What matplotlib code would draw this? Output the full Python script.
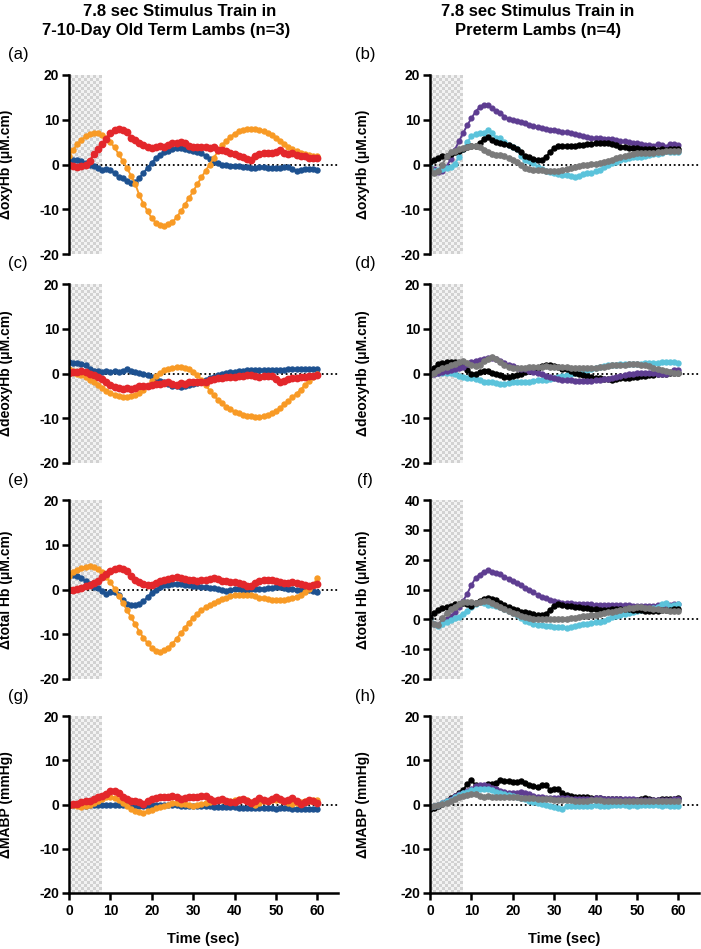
import numpy as np
import matplotlib.pyplot as plt
from matplotlib.colors import ListedColormap

plt.rcParams['font.family'] = ['Liberation Sans', 'DejaVu Sans']
plt.rcParams['axes.unicode_minus'] = False

# 时间轴（秒），每秒一个采样点
time_sec = np.arange(0, 61)
stim_end = 7.8

# ---------- 足月羔羊 (n=3) ----------
oxy_term_blue = [1.0, 0.9, 0.9, 0.7, 0.3, 0.0, -0.3, -0.8, -1.3, -1.0, -1.2, -2.0, -2.7, -3.1, -3.6, -4.1,
                 -4.0, -3.0, -1.9, -0.7, 0.4, 1.4, 2.2, 2.7, 3.1, 3.4, 3.6, 3.6, 3.4, 3.3, 3.1, 2.9, 2.6,
                 1.9, 1.2, 0.6, 0.3, 0.0, -0.2, -0.3, -0.4, -0.4, -0.5, -0.6, -0.8, -0.7, -0.6, -0.6, -0.7,
                 -0.8, -0.8, -0.7, -0.6, -0.6, -1.0, -1.5, -1.3, -1.0, -1.0, -1.1, -1.3]
oxy_term_orange = [2.0, 3.3, 4.5, 5.5, 6.3, 6.8, 7.0, 7.0, 6.6, 5.9, 5.0, 3.8, 2.3, 0.8, -0.8, -2.5, -4.3,
                   -6.9, -8.8, -10.5, -12.0, -13.0, -13.6, -13.7, -13.4, -12.9, -11.8, -10.5, -9.0, -7.5,
                   -6.0, -4.4, -2.9, -1.4, 0.0, 1.5, 3.0, 4.3, 5.3, 6.2, 6.9, 7.4, 7.8, 8.0, 8.0, 8.0, 7.8,
                   7.5, 7.0, 6.5, 5.9, 5.2, 4.6, 4.0, 3.4, 3.0, 2.6, 2.3, 2.1, 1.9, 1.8]
oxy_term_red = [0.0, -0.3, -0.5, -0.4, 0.0, 0.8, 2.3, 3.5, 4.5, 5.8, 7.0, 7.7, 7.9, 7.7, 7.2, 6.0, 5.5, 4.8,
                4.3, 3.8, 3.7, 4.0, 4.1, 3.9, 4.3, 4.9, 4.8, 5.0, 4.7, 4.2, 3.9, 3.9, 4.0, 3.8, 3.6, 3.8, 3.3,
                3.2, 3.0, 2.6, 2.3, 2.0, 1.6, 1.2, 1.0, 2.0, 2.3, 2.5, 2.5, 2.6, 2.9, 3.2, 2.5, 2.3, 2.5, 2.2,
                2.0, 1.8, 1.5, 1.4, 1.4]

deoxy_term_blue = [2.5, 2.4, 2.3, 2.1, 1.8, 1.0, 0.6, 0.5, 0.4, 0.5, 0.4, 0.5, 0.3, 0.6, 0.9, 0.5, 0.4, 0.2,
                   -0.1, -0.4, -0.8, -1.2, -1.6, -2.0, -2.4, -2.7, -2.9, -3.0, -2.8, -2.6, -2.4, -2.1, -1.8,
                   -1.4, -1.0, -0.7, -0.4, -0.2, 0.1, 0.3, 0.4, 0.5, 0.6, 0.7, 0.7, 0.8, 0.8, 0.7, 0.7, 0.8,
                   0.8, 0.7, 0.8, 0.9, 0.9, 1.0, 1.1, 1.0, 0.9, 1.0, 0.9]
deoxy_term_orange = [1.0, 0.5, 0.0, -0.4, -0.8, -1.4, -2.0, -2.6, -3.2, -3.8, -4.4, -4.8, -5.1, -5.2, -5.3,
                     -5.1, -4.8, -4.3, -3.6, -2.8, -1.7, -0.6, 0.2, 0.7, 1.1, 1.3, 1.4, 1.4, 1.3, 1.0, 0.4,
                     -0.4, -1.4, -2.6, -3.8, -4.9, -5.9, -6.7, -7.4, -8.0, -8.5, -8.9, -9.2, -9.4, -9.6, -9.7,
                     -9.7, -9.6, -9.3, -8.9, -8.4, -7.7, -6.9, -6.2, -5.3, -4.5, -3.6, -2.6, -1.7, -0.8, 0.0]
deoxy_term_red = [0.2, 0.3, 0.4, 0.5, 0.3, 0.0, -0.4, -0.8, -1.3, -2.0, -2.5, -3.0, -3.3, -3.4, -3.3, -3.5,
                  -3.2, -2.9, -2.8, -2.7, -2.5, -2.3, -2.3, -2.2, -2.0, -2.3, -2.5, -2.2, -2.3, -2.0, -2.0,
                  -1.9, -1.8, -1.8, -1.5, -1.3, -1.1, -1.0, -0.8, -0.8, -0.7, -0.6, -0.5, -0.3, -0.4, -0.6,
                  -0.8, -0.6, -0.5, -0.6, -1.2, -1.8, -1.6, -1.2, -1.0, -0.9, -0.8, -0.7, -0.6, -0.5, -0.4]

total_term_blue = [3.2, 3.2, 3.1, 2.6, 1.8, 1.2, 0.6, 0.3, -0.3, -0.9, -0.6, -0.5, -1.2, -2.4, -3.3, -3.5,
                   -3.5, -3.3, -2.6, -1.7, -0.7, 0.0, 0.5, 0.9, 1.1, 1.3, 1.3, 1.2, 1.0, 0.9, 0.8, 0.7, 0.6,
                   0.5, 0.4, 0.4, 0.2, 0.0, -0.3, -0.1, 0.2, 0.1, 0.0, 0.0, 0.1, 0.2, 0.2, 0.2, 0.3, 0.4, 0.6,
                   0.6, 0.4, 0.2, 0.1, 0.0, 0.0, -0.1, -0.1, -0.3, -0.5]
total_term_orange = [3.0, 3.8, 4.4, 4.9, 5.1, 5.2, 5.0, 4.5, 3.8, 2.7, 1.6, 0.2, -1.4, -3.0, -4.6, -6.2,
                     -7.8, -9.4, -10.8, -12.0, -13.0, -13.8, -14.0, -13.6, -13.0, -12.1, -11.0, -9.8, -8.6,
                     -7.4, -6.3, -5.4, -4.6, -4.0, -3.5, -3.0, -2.5, -2.1, -1.8, -1.5, -1.3, -1.2, -1.2, -1.2,
                     -1.3, -1.5, -1.8, -2.0, -2.2, -2.4, -2.4, -2.4, -2.3, -2.1, -1.9, -1.6, -1.2, -0.5, 0.2,
                     1.0, 2.6]
total_term_red = [-0.1, 0.0, 0.2, 0.4, 0.7, 1.1, 1.5, 2.0, 2.7, 3.4, 4.1, 4.6, 4.7, 4.6, 4.2, 3.0, 2.2, 1.6,
                  1.2, 1.0, 1.1, 1.5, 1.9, 2.2, 2.4, 2.6, 2.7, 2.6, 2.3, 2.1, 2.1, 2.0, 2.1, 2.2, 2.3, 2.5, 2.3,
                  2.0, 1.8, 1.7, 1.6, 1.5, 1.3, 0.8, 0.8, 1.4, 1.9, 2.1, 2.2, 2.2, 2.0, 1.7, 1.5, 1.5, 1.6,
                  1.5, 1.3, 1.0, 0.8, 1.0, 1.2]

mabp_term_blue = [0.0, 0.0, -0.1, -0.3, -0.3, -0.2, -0.2, -0.1, 0.0, 0.0, 0.0, 0.0, 0.0, -0.1, -0.2, -0.3,
                  -0.4, -0.4, -0.4, -0.3, -0.2, -0.2, -0.2, -0.2, -0.2, -0.2, -0.2, -0.3, -0.3, -0.3, -0.3,
                  -0.3, -0.4, -0.4, -0.4, -0.5, -0.5, -0.5, -0.6, -0.6, -0.6, -0.7, -0.8, -0.8, -0.7, -0.7,
                  -0.8, -0.8, -0.8, -0.9, -1.0, -0.9, -0.8, -0.9, -1.0, -1.0, -1.1, -1.0, -1.0, -1.1, -1.0]
mabp_term_orange = [0.0, -0.1, -0.3, -0.5, -0.4, -0.2, 0.3, 0.8, 1.2, 1.6, 1.8, 1.5, 1.0, 0.4, -0.3, -1.0,
                    -1.5, -1.6, -2.0, -1.5, -1.2, -0.9, -0.6, -0.3, 0.0, 0.3, 0.4, 0.2, 0.2, 0.0, -0.3, -0.1,
                    0.2, 0.3, 0.6, 0.8, 1.1, 1.0, 0.9, 0.9, 1.0, 1.2, 1.3, 1.1, 0.6, 0.0, 0.3, 0.7, 0.9, 1.0,
                    1.0, 1.1, 0.8, 0.4, 0.2, 0.4, 0.6, 0.7, 0.8, 1.0, 1.1]
mabp_term_red = [0.0, 0.1, 0.2, 0.5, 0.7, 0.9, 1.3, 1.7, 1.9, 2.3, 3.1, 3.0, 2.6, 1.8, 1.2, 0.9, 0.8, 0.5,
                 0.2, 0.8, 1.3, 1.4, 1.6, 1.8, 1.8, 2.0, 1.6, 1.2, 1.4, 1.6, 1.6, 1.7, 1.9, 2.0, 1.3, 0.9, 1.1,
                 1.2, 0.8, 0.5, 0.6, 1.0, 1.2, 0.8, 0.3, 0.9, 1.4, 1.0, 0.7, 1.2, 1.7, 1.2, 0.7, 1.0, 1.4, 0.9,
                 0.2, 0.6, 1.1, 0.8, 0.3]

# ---------- 早产羔羊 (n=4) ----------
oxy_pre_purple = [-0.5, -1.0, -1.6, -1.5, -0.5, 1.2, 3.3, 5.2, 7.0, 8.8, 10.3, 11.8, 12.8, 13.4, 13.2, 12.6,
                  12.0, 11.6, 10.7, 10.1, 10.0, 9.8, 9.5, 9.2, 8.9, 8.6, 8.3, 8.2, 8.0, 7.8, 7.6, 7.4, 7.3, 7.2,
                  7.0, 6.9, 6.7, 6.4, 6.2, 6.0, 5.9, 5.9, 5.8, 5.7, 5.6, 5.5, 5.3, 5.2, 5.0, 4.8, 4.7, 4.5,
                  4.3, 4.3, 4.2, 4.6, 4.4, 4.0, 4.6, 4.5, 4.3]
oxy_pre_cyan = [-0.5, -1.5, -1.3, -0.9, -0.8, -0.5, 0.2, 1.6, 3.5, 5.0, 6.3, 6.8, 7.0, 7.1, 7.7, 7.0, 6.0,
                5.9, 5.0, 4.4, 4.0, 3.5, 2.0, 1.0, 0.8, 0.3, -0.5, -1.0, -1.5, -1.7, -1.9, -2.1, -2.3, -2.4,
                -2.5, -2.9, -2.6, -2.2, -2.0, -1.8, -1.5, -1.2, -0.6, -0.1, 0.3, 0.6, 1.0, 1.3, 1.5, 1.6, 1.7,
                1.7, 1.9, 2.1, 2.3, 2.4, 2.6, 3.1, 2.9, 2.7, 2.7]
oxy_pre_black = [0.5, 1.0, 1.4, 1.8, 2.0, 2.4, 2.7, 3.0, 3.4, 3.8, 4.1, 4.2, 4.9, 5.6, 6.2, 5.5, 5.0, 4.8,
                 4.5, 4.3, 3.9, 3.4, 2.7, 2.0, 1.6, 1.3, 1.0, 1.1, 1.6, 2.8, 3.7, 4.1, 4.1, 4.1, 4.2, 4.2, 4.3,
                 4.4, 4.5, 4.5, 4.7, 4.8, 4.8, 4.7, 4.5, 4.3, 4.0, 3.8, 3.7, 3.6, 3.6, 3.5, 3.4, 3.4, 3.5,
                 3.3, 3.5, 3.3, 3.4, 3.4, 3.4]
oxy_pre_gray = [-0.8, -1.8, -1.5, 0.0, 1.8, 2.7, 3.1, 3.4, 3.6, 3.9, 4.1, 4.1, 3.8, 3.2, 2.7, 2.3, 2.2, 2.1,
                1.8, 1.5, 1.0, 0.5, -0.2, -0.8, -1.1, -1.2, -1.3, -1.3, -1.4, -1.4, -1.4, -1.4, -1.3, -1.1,
                -0.8, -0.6, -0.3, -0.2, 0.0, 0.1, 0.2, 0.3, 0.5, 0.8, 1.1, 1.4, 1.7, 1.9, 2.2, 2.4, 2.5, 2.5,
                2.6, 2.6, 2.6, 2.7, 2.9, 3.0, 3.1, 3.1, 3.1]

deoxy_pre_purple = [-0.2, 0.0, 0.2, 0.4, 0.6, 0.8, 1.0, 1.2, 1.5, 2.1, 2.6, 2.9, 3.1, 3.3, 3.5, 3.4, 3.2,
                    2.8, 2.4, 2.0, 1.6, 1.3, 1.1, 0.9, 0.6, 0.4, 0.1, -0.2, -0.5, -0.8, -1.0, -1.2, -1.4,
                    -1.5, -1.5, -1.6, -1.6, -1.7, -1.6, -1.6, -1.5, -1.4, -1.3, -1.2, -1.0, -0.8, -0.6, -0.4,
                    -0.2, 0.0, 0.1, 0.2, 0.2, 0.2, 0.1, 0.0, -0.1, 0.0, 0.3, 0.7, 0.7]
deoxy_pre_cyan = [0.0, 0.1, 0.2, 0.2, 0.2, 0.2, -0.2, -0.5, -0.8, -1.0, -1.1, -1.3, -1.5, -1.8, -1.9, -2.0,
                  -2.1, -2.4, -2.3, -2.1, -2.0, -2.0, -2.0, -1.9, -1.8, -1.6, -1.5, -1.4, -1.4, -1.3, -1.1,
                  -0.8, -0.6, -0.4, -0.2, 0.1, 0.3, 0.5, 0.8, 1.0, 1.2, 1.4, 1.6, 1.8, 1.9, 2.0, 2.1, 2.1, 2.2,
                  2.2, 2.2, 2.2, 2.3, 2.3, 2.4, 2.4, 2.5, 2.5, 2.6, 2.5, 2.4]
deoxy_pre_black = [0.3, 1.2, 2.1, 2.3, 2.5, 2.6, 2.5, 2.3, 1.6, 0.8, 0.0, -0.2, 0.3, 0.6, 0.5, 0.2, 0.0,
                   -0.4, -0.7, -0.7, -0.6, -0.4, -0.1, 0.3, 0.6, 0.9, 1.3, 1.6, 1.9, 1.8, 1.6, 1.4, 1.1, 0.9,
                   0.6, 0.2, -0.2, -0.4, -0.6, -0.7, -0.9, -1.0, -1.2, -1.3, -1.4, -1.3, -1.1, -1.0, -0.9,
                   -0.8, -0.7, -0.6, -0.5, -0.4, -0.3, -0.2, -0.1, 0.0, 0.1, 0.2, 0.2]
deoxy_pre_gray = [-0.3, 0.2, 0.8, 1.2, 1.5, 1.9, 2.2, 2.5, 2.8, 2.4, 1.9, 1.6, 2.0, 2.7, 3.2, 3.6, 3.2, 2.6,
                  2.0, 1.5, 1.3, 1.3, 1.3, 1.3, 1.4, 1.4, 1.5, 1.5, 1.6, 1.5, 1.5, 1.5, 1.4, 1.4, 1.3, 1.3, 1.3,
                  1.3, 1.3, 1.3, 1.3, 1.4, 1.5, 1.6, 1.8, 1.9, 2.0, 2.0, 2.1, 2.1, 2.1, 2.0, 1.8, 1.6, 1.3,
                  1.1, 0.8, 0.6, 0.4, 0.2, 0.2]

total_pre_purple = [-1.0, -1.5, -1.8, -1.0, 0.1, 1.0, 2.3, 4.0, 6.2, 8.6, 11.5, 13.8, 15.0, 16.0, 16.4, 16.0,
                    15.5, 15.1, 14.3, 13.6, 12.9, 12.1, 11.4, 10.6, 9.8, 9.0, 8.3, 7.6, 7.0, 6.5, 6.1, 5.8,
                    5.6, 5.5, 5.4, 5.3, 5.2, 5.1, 5.1, 5.0, 4.9, 4.8, 4.8, 4.8, 4.8, 4.8, 4.8, 4.7, 4.7, 4.6,
                    4.6, 4.6, 4.6, 4.6, 4.6, 4.7, 4.8, 4.8, 4.9, 5.1, 5.1]
total_pre_cyan = [0.0, -1.5, -2.1, -1.5, -0.8, -0.3, 0.3, 0.9, 1.8, 2.9, 4.0, 5.0, 5.8, 5.5, 4.8, 4.7, 4.6,
                  4.1, 3.5, 2.8, 2.1, 1.5, 0.6, -0.4, -1.0, -1.4, -1.8, -2.0, -2.2, -2.4, -2.5, -2.6, -2.7,
                  -2.8, -2.5, -2.1, -1.8, -1.6, -1.4, -1.2, -1.0, -0.8, -0.4, 0.2, 0.8, 1.1, 1.5, 1.9, 2.2,
                  2.5, 2.9, 3.2, 3.4, 3.6, 3.9, 4.3, 5.0, 5.6, 4.6, 4.8, 5.1]
total_pre_black = [0.5, 2.0, 3.2, 3.8, 4.3, 4.6, 5.0, 5.3, 5.6, 5.0, 4.6, 5.5, 6.0, 6.8, 7.1, 6.8, 6.4, 5.6,
                   4.7, 4.0, 3.4, 3.0, 2.6, 2.3, 2.0, 1.7, 1.5, 1.5, 1.8, 3.2, 4.6, 5.1, 4.9, 4.6, 4.5, 4.3,
                   4.1, 3.9, 3.7, 3.5, 3.4, 3.2, 3.1, 3.2, 3.3, 3.4, 3.5, 3.4, 3.3, 3.2, 3.1, 3.0, 2.9, 2.8,
                   2.8, 2.9, 3.0, 3.1, 3.2, 3.4, 3.5]
total_pre_gray = [-1.0, -1.5, -2.0, 0.3, 2.0, 3.3, 4.3, 5.2, 5.9, 5.9, 5.7, 5.6, 5.7, 6.0, 6.1, 5.6, 4.9, 4.2,
                  3.4, 2.8, 2.2, 1.7, 1.2, 0.7, 0.3, 0.2, 0.1, 0.0, 0.0, 0.0, 0.0, 0.1, 0.1, 0.2, 0.4, 0.6,
                  0.8, 1.0, 1.2, 1.3, 1.5, 1.7, 2.0, 2.3, 2.6, 2.9, 3.2, 3.5, 3.8, 3.9, 4.0, 4.0, 3.9, 3.8,
                  3.6, 3.4, 3.2, 3.0, 2.9, 2.8, 2.8]

mabp_pre_purple = [-0.5, -0.3, 0.0, 0.3, 0.7, 1.3, 1.9, 2.3, 2.6, 3.0, 3.6, 4.1, 4.4, 4.4, 4.2, 3.8, 3.4,
                   3.1, 2.9, 2.7, 2.5, 2.6, 2.8, 2.6, 2.3, 2.0, 1.8, 1.7, 1.5, 1.4, 1.4, 1.4, 1.4, 1.4, 1.3,
                   1.3, 1.2, 1.2, 1.2, 1.3, 1.4, 1.4, 1.3, 1.2, 1.2, 1.2, 1.2, 1.2, 1.2, 1.2, 1.1, 1.1, 1.0,
                   1.0, 1.0, 1.0, 1.0, 1.0, 1.1, 1.2, 1.2]
mabp_pre_cyan = [-0.5, -0.4, -0.1, 0.3, 0.7, 1.1, 1.6, 2.1, 2.5, 2.9, 3.2, 3.4, 3.5, 3.5, 3.4, 3.2, 2.8, 2.5,
                 2.3, 2.2, 2.0, 1.8, 1.5, 1.2, 0.9, 0.6, 0.4, 0.2, 0.0, -0.3, -0.5, -0.7, -1.0, -0.3, -0.3,
                 -0.4, -0.4, -0.4, -0.3, -0.3, -0.2, -0.3, -0.3, -0.4, -0.2, -0.1, -0.1, -0.2, -0.3, -0.2,
                 -0.3, -0.2, -0.1, -0.1, -0.1, -0.2, -0.3, -0.2, -0.3, -0.3, -0.3]
mabp_pre_black = [-1.0, -0.8, -0.4, 0.2, 0.9, 1.4, 2.0, 2.6, 3.3, 4.6, 5.5, 4.4, 4.1, 4.0, 4.6, 4.7, 4.9,
                  5.5, 5.3, 5.2, 5.0, 5.1, 5.2, 4.8, 4.4, 4.2, 4.0, 4.3, 4.4, 3.3, 3.5, 3.6, 2.6, 2.2, 1.9,
                  1.8, 1.7, 1.6, 1.6, 1.5, 1.5, 1.4, 1.3, 1.3, 1.2, 1.2, 1.2, 1.1, 1.1, 1.0, 1.0, 1.2, 1.4,
                  1.2, 1.0, 1.1, 1.2, 1.3, 1.2, 1.3, 1.4]
mabp_pre_gray = [-0.5, -0.4, -0.2, 0.1, 0.4, 0.8, 1.2, 1.6, 1.9, 2.2, 2.4, 2.4, 2.0, 1.8, 2.0, 1.8, 1.6, 1.6,
                 1.7, 1.6, 1.6, 1.6, 1.5, 1.5, 1.4, 1.4, 1.3, 1.3, 1.2, 1.2, 1.1, 1.1, 1.0, 1.0, 1.0, 0.9,
                 0.9, 0.9, 0.9, 1.0, 1.0, 1.0, 0.9, 0.9, 0.9, 0.9, 0.9, 0.9, 0.9, 0.9, 0.9, 0.9, 0.9, 0.9,
                 0.9, 0.9, 0.9, 0.9, 0.8, 0.8, 0.8]

# 颜色
C_BLUE = '#1d5190'
C_ORANGE = '#f89a25'
C_RED = '#e3272b'
C_PURPLE = '#5e3d91'
C_CYAN = '#5bc3db'
C_BLACK = '#000000'
C_GRAY = '#7a7a7a'

W, H = 701, 949
fig = plt.figure(figsize=(W / 100, H / 100), dpi=100)

col_left = {'L': 69, 'R': 338}
col_right = {'L': 430, 'R': 699}
row_px = [(75, 254), (284, 463), (500, 679), (716, 893)]

yl_oxy = 'ΔoxyHb (μM.cm)'
yl_deoxy = 'ΔdeoxyHb (μM.cm)'
yl_total = 'Δtotal Hb (μM.cm)'
yl_mabp = 'ΔMABP (mmHg)'

panels = [
    ('(a)', 0, col_left, yl_oxy, (-20, 20),
     [(oxy_term_blue, C_BLUE, 3.6), (oxy_term_orange, C_ORANGE, 3.6), (oxy_term_red, C_RED, 4.6)]),
    ('(b)', 0, col_right, yl_oxy, (-20, 20),
     [(oxy_pre_purple, C_PURPLE, 3.4), (oxy_pre_cyan, C_CYAN, 3.6),
      (oxy_pre_black, C_BLACK, 3.6), (oxy_pre_gray, C_GRAY, 3.8)]),
    ('(c)', 1, col_left, yl_deoxy, (-20, 20),
     [(deoxy_term_blue, C_BLUE, 3.6), (deoxy_term_orange, C_ORANGE, 3.6), (deoxy_term_red, C_RED, 4.6)]),
    ('(d)', 1, col_right, yl_deoxy, (-20, 20),
     [(deoxy_pre_cyan, C_CYAN, 3.6), (deoxy_pre_black, C_BLACK, 3.6),
      (deoxy_pre_purple, C_PURPLE, 3.6), (deoxy_pre_gray, C_GRAY, 3.8)]),
    ('(e)', 2, col_left, yl_total, (-20, 20),
     [(total_term_blue, C_BLUE, 3.6), (total_term_orange, C_ORANGE, 3.6), (total_term_red, C_RED, 4.6)]),
    ('(f)', 2, col_right, yl_total, (-20, 40),
     [(total_pre_purple, C_PURPLE, 3.4), (total_pre_cyan, C_CYAN, 3.6),
      (total_pre_black, C_BLACK, 3.6), (total_pre_gray, C_GRAY, 3.8)]),
    ('(g)', 3, col_left, yl_mabp, (-20, 20),
     [(mabp_term_blue, C_BLUE, 3.6), (mabp_term_orange, C_ORANGE, 3.6), (mabp_term_red, C_RED, 4.6)]),
    ('(h)', 3, col_right, yl_mabp, (-20, 20),
     [(mabp_pre_black, C_BLACK, 3.6), (mabp_pre_purple, C_PURPLE, 3.6),
      (mabp_pre_cyan, C_CYAN, 3.6), (mabp_pre_gray, C_GRAY, 3.8)]),
]

# 棋盘格背景（刺激期）
checker = (np.add.outer(np.arange(60), np.arange(11)) % 2).astype(float)
checker_cmap = ListedColormap(['#d2d2d2', '#f3f3f3'])

for tag, row, col, ylabel, ylim, series in panels:
    top, bot = row_px[row]
    ax = fig.add_axes([col['L'] / W, 1 - bot / H, (col['R'] - col['L']) / W, (bot - top) / H])
    ax.imshow(checker, extent=[0, stim_end, ylim[0], ylim[1]], aspect='auto',
              cmap=checker_cmap, vmin=0, vmax=1, interpolation='nearest', zorder=0)
    ax.axhline(0, color='black', ls=(0, (1, 1.5)), lw=1.3, zorder=1)
    for vals, c, ms in series:
        ax.plot(time_sec, vals, '-o', color=c, mec=c, mfc=c, ms=ms, lw=1.4, zorder=2)
    ax.set_xlim(0, 65)
    ax.set_ylim(*ylim)
    ax.set_yticks(np.arange(ylim[0], ylim[1] + 1, 10))
    for s in ['top', 'right']:
        ax.spines[s].set_visible(False)
    ax.spines['left'].set_linewidth(1.8)
    ax.tick_params(axis='y', width=1.8, length=5, labelsize=10, pad=2)
    for lab in ax.get_yticklabels():
        lab.set_fontweight('bold')
    if row == 3:
        ax.spines['bottom'].set_linewidth(1.8)
        ax.set_xticks(np.arange(0, 61, 10))
        ax.tick_params(axis='x', width=1.8, length=5, labelsize=10, pad=3)
        for lab in ax.get_xticklabels():
            lab.set_fontweight('bold')
        ax.set_xlabel('Time (sec)', fontsize=10.5, fontweight='bold', labelpad=10)
    else:
        ax.spines['bottom'].set_visible(False)
        ax.set_xticks([])
    ax.set_ylabel(ylabel, fontsize=10, fontweight='bold')
    lx = 13 if col is col_left else 370
    ax.yaxis.set_label_coords((lx - col['L']) / (col['R'] - col['L']), 0.5)
    tx = 18 if col is col_left else 365
    fig.text(tx / W, 1 - (top - 20) / H, tag, fontsize=12, ha='center', va='center')

# 列标题
fig.text(180 / W, 1 - 11 / H, '7.8 sec Stimulus Train in', fontsize=12, fontweight='bold',
         ha='center', va='center')
fig.text(166 / W, 1 - 31 / H, '7-10-Day Old Term Lambs (n=3)', fontsize=12, fontweight='bold',
         ha='center', va='center')
fig.text(538 / W, 1 - 11 / H, '7.8 sec Stimulus Train in', fontsize=12, fontweight='bold',
         ha='center', va='center')
fig.text(538 / W, 1 - 31 / H, 'Preterm Lambs (n=4)', fontsize=12, fontweight='bold',
         ha='center', va='center')

fig.savefig('out.png', dpi=100)
